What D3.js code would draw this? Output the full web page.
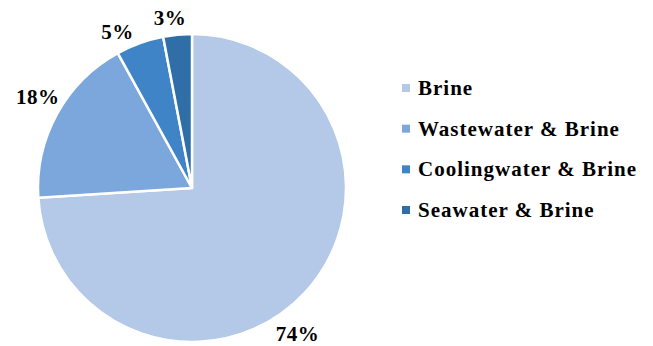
<!DOCTYPE html>
<html>
<head>
<meta charset="utf-8">
<script src="https://cdn.jsdelivr.net/npm/d3@7"></script>
<style>
  body { margin: 0; background: #fff; }
  text { font-family: "Liberation Serif", "Times New Roman", serif; font-weight: bold; fill: #000; }
</style>
</head>
<body>
<div id="chart"></div>
<script>
const categories = ["Brine", "Wastewater & Brine", "Coolingwater & Brine", "Seawater & Brine"];
const shares = [74, 18, 5, 3];
const colors = ["#b4c8e7", "#7ba7dc", "#3e84c6", "#2f6ea6"];

const width = 653, height = 346;
const cx = 192, cy = 188, radius = 154;

// label placement (Excel nudged them around)
const labelAngleShift = [0.19, 0.03, -0.10, -0.035];
const labelRadius = [180, 179, 173, 171];

const svg = d3.select("#chart")
  .append("svg")
  .attr("width", width)
  .attr("height", height);

const pie = d3.pie().sort(null).value(d => d)(shares);
const arc = d3.arc().innerRadius(0).outerRadius(radius);

const g = svg.append("g").attr("transform", `translate(${cx},${cy})`);

g.selectAll("path")
  .data(pie)
  .enter()
  .append("path")
  .attr("d", arc)
  .attr("fill", (d, i) => colors[i])
  .attr("stroke", "#fff")
  .attr("stroke-width", 2.5)
  .attr("stroke-linejoin", "round");

g.selectAll("text.lbl")
  .data(pie)
  .enter()
  .append("text")
  .attr("class", "lbl")
  .attr("transform", (d, i) => {
    const a = (d.startAngle + d.endAngle) / 2 + labelAngleShift[i];
    const c = d3.arc().innerRadius(labelRadius[i]).outerRadius(labelRadius[i])
      .centroid({ startAngle: a, endAngle: a });
    return `translate(${c[0]},${c[1]})`;
  })
  .attr("text-anchor", "middle")
  .attr("dominant-baseline", "central")
  .style("font-size", "21px")
  .style("letter-spacing", "0.5px")
  .text(d => d.value + "%");

const legend = svg.append("g").attr("transform", "translate(402,88)");
const row = d3.scalePoint().domain(categories).range([0, 122]);

const item = legend.selectAll("g")
  .data(categories)
  .enter()
  .append("g")
  .attr("transform", d => `translate(0,${row(d)})`);

item.append("rect")
  .attr("x", 0).attr("y", -4)
  .attr("width", 8).attr("height", 8)
  .attr("fill", (d, i) => colors[i]);

item.append("text")
  .attr("x", 16)
  .attr("dominant-baseline", "central")
  .style("font-size", "21px")
  .style("letter-spacing", "1px")
  .text(d => d);
</script>
</body>
</html>
